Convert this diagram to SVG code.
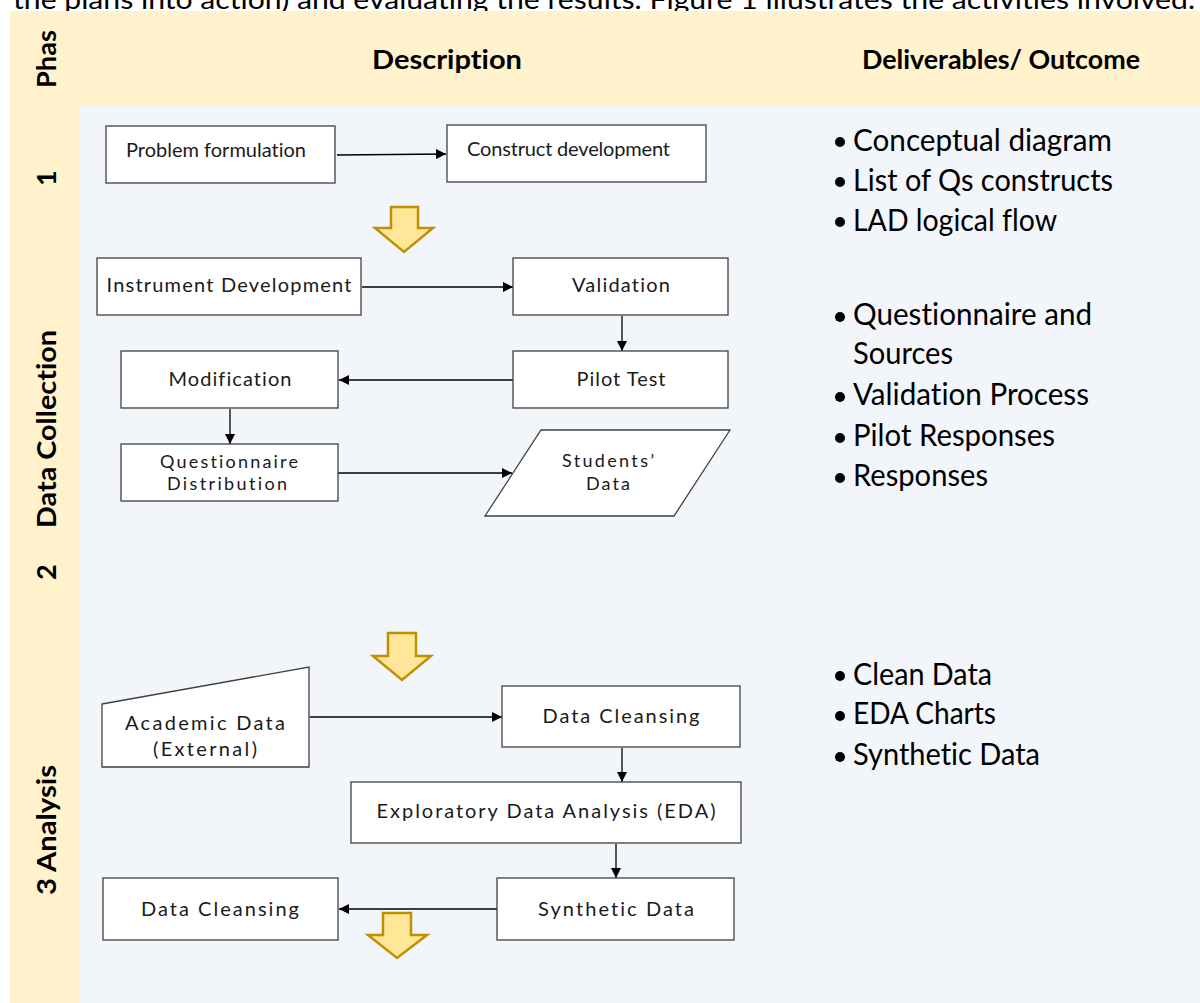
<svg xmlns="http://www.w3.org/2000/svg" width="1200" height="1003" viewBox="0 0 1200 1003">
<defs>
<style>
text{font-variant-ligatures:none}
.bg-beige{fill:#FFF2CC}
.bg-blue{fill:#F2F5FA}
.box{fill:#FFFFFF;stroke:#404040;stroke-width:1.3}
.bt{font-family:Lato,"Liberation Sans",sans-serif;font-size:20px;fill:#1a1a1a}
.bt2{font-family:Lato,"Liberation Sans",sans-serif;font-size:18px;fill:#1a1a1a}
.hd{font-family:Lato,"Liberation Sans",sans-serif;font-size:26px;font-weight:bold;fill:#000}
.ph{font-family:Lato,"Liberation Sans",sans-serif;font-size:27px;font-weight:bold;fill:#000}
.dl{font-family:Lato,"Liberation Sans",sans-serif;font-size:30px;fill:#000}
.top{font-family:Lato,"Liberation Sans",sans-serif;font-size:27px;fill:#000}
.con{stroke:#000;stroke-width:1.3;fill:none;marker-end:url(#ah)}
.blk{fill:#FFE699;stroke:#BF9000;stroke-width:2.5;stroke-linejoin:miter}
</style>
<marker id="ah" viewBox="0 0 10 10" refX="10" refY="5" markerWidth="10" markerHeight="10" markerUnits="userSpaceOnUse" orient="auto">
<path d="M0,0 L10,5 L0,10 z" fill="#000"/>
</marker>
</defs>

<rect x="0" y="0" width="1200" height="1003" fill="#FFFFFF"/>
<text class="top" x="13" y="9" textLength="1182" lengthAdjust="spacingAndGlyphs">the plans into action) and evaluating the results. Figure 1 illustrates the activities involved.</text>

<g id="table-background">
<rect class="bg-beige" x="10" y="11" width="1190" height="95"/>
<rect class="bg-beige" x="10" y="11" width="70" height="992"/>
<rect class="bg-blue" x="80" y="106" width="1120" height="897"/>
</g>

<g id="header">
<text class="hd" x="447" y="69" text-anchor="middle" textLength="150" lengthAdjust="spacingAndGlyphs">Description</text>
<text class="hd" x="1001" y="69" text-anchor="middle" textLength="278" lengthAdjust="spacingAndGlyphs">Deliverables/ Outcome</text>
</g>

<g id="phase-labels">
<text class="ph" transform="translate(56,88) rotate(-90)" textLength="58" lengthAdjust="spacingAndGlyphs">Phas</text>
<text class="ph" transform="translate(56,186) rotate(-90)">1</text>
<text class="ph" transform="translate(56,528) rotate(-90)" textLength="198" lengthAdjust="spacingAndGlyphs">Data Collection</text>
<text class="ph" transform="translate(56,580) rotate(-90)">2</text>
<text class="ph" transform="translate(56,895) rotate(-90)" textLength="130" lengthAdjust="spacingAndGlyphs">3 Analysis</text>
</g>

<g id="connectors">
<line class="con" x1="337" y1="155" x2="446" y2="154"/>
<line class="con" x1="362" y1="287" x2="513" y2="287"/>
<line class="con" x1="622" y1="316" x2="622" y2="351"/>
<line class="con" x1="513" y1="380" x2="339" y2="380"/>
<line class="con" x1="230" y1="409" x2="230" y2="444"/>
<line class="con" x1="338" y1="473" x2="512" y2="473"/>
<line class="con" x1="310" y1="717" x2="502" y2="717"/>
<line class="con" x1="622" y1="748" x2="622" y2="782"/>
<line class="con" x1="616" y1="844" x2="616" y2="878"/>
<line class="con" x1="497" y1="909" x2="339" y2="909"/>
</g>

<g id="block-arrows">
<polygon class="blk" points="391,207 418,207 418,228 433,228 404,252 375,228 391,228"/>
<polygon class="blk" points="388,633 416,633 416,656 431,656 402,680 373,656 388,656"/>
<polygon class="blk" points="383,913 411,913 411,935 427,935 397,958 368,935 383,935"/>
</g>

<g id="node-problem-formulation">
<rect class="box" x="106" y="126" width="229" height="57"/>
<text class="bt" x="126" y="157" textLength="180" lengthAdjust="spacing">Problem formulation</text>
</g>
<g id="node-construct-development">
<rect class="box" x="447" y="125" width="259" height="57"/>
<text class="bt" x="467" y="156" textLength="203" lengthAdjust="spacing">Construct development</text>
</g>
<g id="node-instrument-development">
<rect class="box" x="97" y="258" width="264" height="57"/>
<text class="bt" x="229" y="292" text-anchor="middle" textLength="245" lengthAdjust="spacing">Instrument Development</text>
</g>
<g id="node-validation">
<rect class="box" x="513" y="258" width="215" height="57"/>
<text class="bt" x="621" y="292" text-anchor="middle" textLength="98" lengthAdjust="spacing">Validation</text>
</g>
<g id="node-pilot-test">
<rect class="box" x="513" y="351" width="215" height="57"/>
<text class="bt" x="621" y="386" text-anchor="middle" textLength="89" lengthAdjust="spacing">Pilot Test</text>
</g>
<g id="node-modification">
<rect class="box" x="121" y="351" width="217" height="57"/>
<text class="bt" x="230" y="386" text-anchor="middle" textLength="123" lengthAdjust="spacing">Modification</text>
</g>
<g id="node-questionnaire-distribution">
<rect class="box" x="121" y="444" width="217" height="57"/>
<text class="bt2" x="229" y="468" text-anchor="middle" textLength="138" lengthAdjust="spacing">Questionnaire</text>
<text class="bt2" x="227" y="490" text-anchor="middle" textLength="120" lengthAdjust="spacing">Distribution</text>
</g>
<g id="node-students-data">
<polygon class="box" points="541,430 730,430 674,516 485,516"/>
<text class="bt2" x="608" y="467" text-anchor="middle" textLength="92" lengthAdjust="spacing">Students’</text>
<text class="bt2" x="608" y="490" text-anchor="middle" textLength="44" lengthAdjust="spacing">Data</text>
</g>
<g id="node-academic-data">
<polygon class="box" points="102,704 309,667 309,767 102,767"/>
<text class="bt" x="205" y="730" text-anchor="middle" textLength="160" lengthAdjust="spacing">Academic Data</text>
<text class="bt" x="205" y="756" text-anchor="middle" textLength="104" lengthAdjust="spacing">(External)</text>
</g>
<g id="node-data-cleansing-1">
<rect class="box" x="502" y="686" width="238" height="61"/>
<text class="bt" x="621" y="723" text-anchor="middle" textLength="157" lengthAdjust="spacing">Data Cleansing</text>
</g>
<g id="node-eda">
<rect class="box" x="351" y="782" width="390" height="61"/>
<text class="bt" x="546" y="818" text-anchor="middle" textLength="339" lengthAdjust="spacing">Exploratory Data Analysis (EDA)</text>
</g>
<g id="node-synthetic-data">
<rect class="box" x="497" y="878" width="237" height="62"/>
<text class="bt" x="616" y="916" text-anchor="middle" textLength="156" lengthAdjust="spacing">Synthetic Data</text>
</g>
<g id="node-data-cleansing-2">
<rect class="box" x="103" y="878" width="235" height="62"/>
<text class="bt" x="220" y="916" text-anchor="middle" textLength="158" lengthAdjust="spacing">Data Cleansing</text>
</g>

<g id="deliverables">
<circle cx="840" cy="142" r="5"/><text class="dl" x="853" y="151" textLength="259" lengthAdjust="spacingAndGlyphs">Conceptual diagram</text>
<circle cx="840" cy="182" r="5"/><text class="dl" x="853" y="191" textLength="260" lengthAdjust="spacingAndGlyphs">List of Qs constructs</text>
<circle cx="840" cy="222" r="5"/><text class="dl" x="853" y="231" textLength="204" lengthAdjust="spacingAndGlyphs">LAD logical flow</text>

<circle cx="840" cy="317" r="5"/><text class="dl" x="853" y="325" textLength="239" lengthAdjust="spacingAndGlyphs">Questionnaire and</text>
<text class="dl" x="853" y="364" textLength="100" lengthAdjust="spacingAndGlyphs">Sources</text>
<circle cx="840" cy="397" r="5"/><text class="dl" x="853" y="405" textLength="236" lengthAdjust="spacingAndGlyphs">Validation Process</text>
<circle cx="840" cy="438" r="5"/><text class="dl" x="853" y="446" textLength="202" lengthAdjust="spacingAndGlyphs">Pilot Responses</text>
<circle cx="840" cy="478" r="5"/><text class="dl" x="853" y="486" textLength="135" lengthAdjust="spacingAndGlyphs">Responses</text>

<circle cx="840" cy="676" r="5"/><text class="dl" x="853" y="685" textLength="139" lengthAdjust="spacingAndGlyphs">Clean Data</text>
<circle cx="840" cy="716" r="5"/><text class="dl" x="853" y="724" textLength="143" lengthAdjust="spacingAndGlyphs">EDA Charts</text>
<circle cx="840" cy="757" r="5"/><text class="dl" x="853" y="765" textLength="187" lengthAdjust="spacingAndGlyphs">Synthetic Data</text>
</g>
</svg>
